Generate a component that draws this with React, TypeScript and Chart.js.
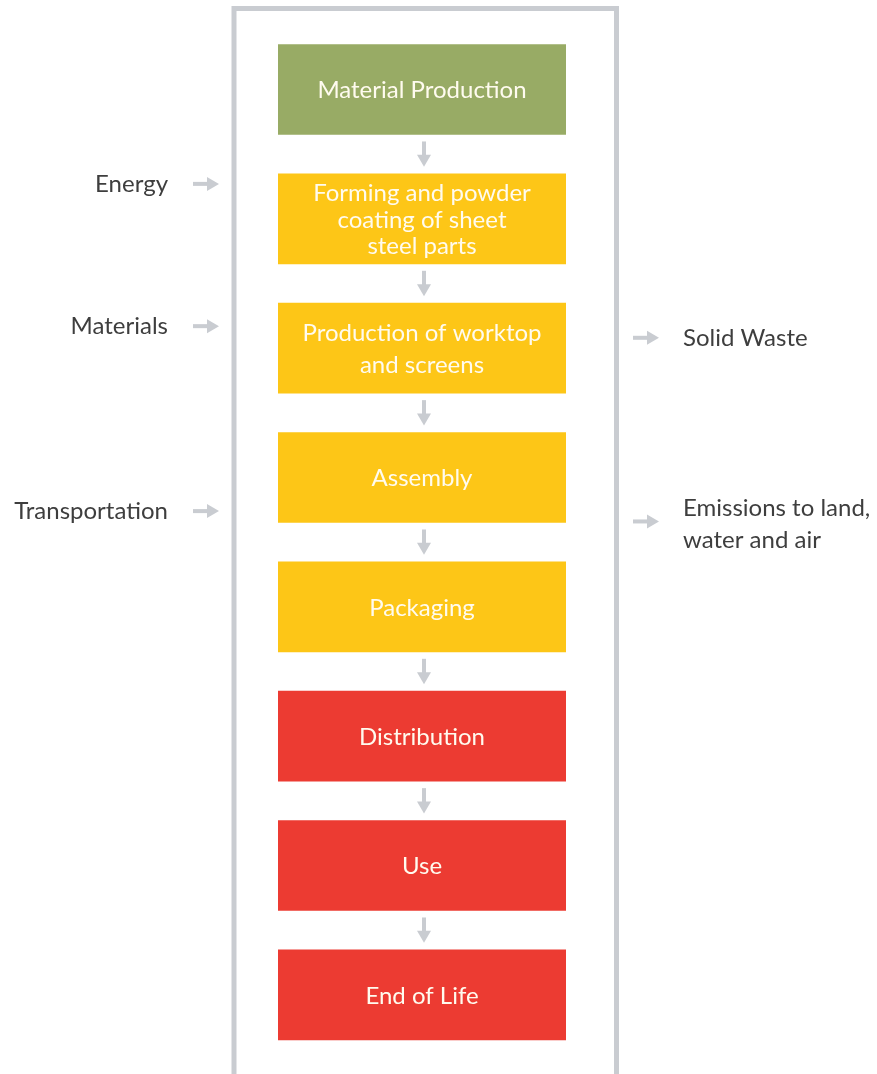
import React, { useEffect, useRef } from "react";
import { Chart, registerables } from "chart.js";

Chart.register(...registerables);

// ---- Data ----
const STAGES: string[][] = [
  ["Material Production"],
  ["Forming and powder", "coating of sheet", "steel parts"],
  ["Production of worktop", "and screens"],
  ["Assembly"],
  ["Packaging"],
  ["Distribution"],
  ["Use"],
  ["End of Life"],
];
const STAGE_PHASE: string[] = [
  "material",
  "manufacturing",
  "manufacturing",
  "manufacturing",
  "manufacturing",
  "use",
  "use",
  "use",
];
const STAGE_SPAN: [number, number] = [0, 1];

const INPUTS: string[][] = [["Energy"], ["Materials"], ["Transportation"]];
const INPUT_POS: number[] = [0.73, 1.83, 3.26];

const OUTPUTS: string[][] = [["Solid Waste"], ["Emissions to land,", "water and air"]];
const OUTPUT_POS: number[] = [1.92, 3.34];

// ---- Styles ----
const PHASE_COLORS: Record<string, string> = {
  material: "#98ab65",
  manufacturing: "#fdc617",
  use: "#ec3b32",
};
const GREY = "#c9ccd1";
const TEXT = "#3e3e3e";
const FONT = "24px Lato, 'Open Sans', sans-serif";
const BOX_LINE_H: number[] = [27, 26.5, 32, 27, 27, 27, 27, 27];

function drawRightArrow(ctx: CanvasRenderingContext2D, x0: number, x1: number, y: number) {
  ctx.fillStyle = GREY;
  const head = 12;
  ctx.fillRect(x0, y - 2, x1 - x0 - head + 1, 4);
  ctx.beginPath();
  ctx.moveTo(x1 - head, y - 7);
  ctx.lineTo(x1, y);
  ctx.lineTo(x1 - head, y + 7);
  ctx.closePath();
  ctx.fill();
}

function drawDownArrow(ctx: CanvasRenderingContext2D, x: number, y0: number, y1: number) {
  ctx.fillStyle = GREY;
  const head = 12;
  ctx.fillRect(x - 2, y0, 4, y1 - y0 - head + 1);
  ctx.beginPath();
  ctx.moveTo(x - 7, y1 - head);
  ctx.lineTo(x, y1);
  ctx.lineTo(x + 7, y1 - head);
  ctx.closePath();
  ctx.fill();
}

const flowPlugin = {
  id: "flow",
  beforeDatasetsDraw(chart: any) {
    const { ctx, chartArea } = chart;
    ctx.save();
    ctx.strokeStyle = GREY;
    ctx.lineWidth = 5;
    const left = chartArea.left - 44;
    const right = chartArea.right + 50.5;
    ctx.beginPath();
    ctx.moveTo(left, chart.height + 20);
    ctx.lineTo(left, 8.5);
    ctx.lineTo(right, 8.5);
    ctx.lineTo(right, chart.height + 20);
    ctx.stroke();
    ctx.restore();
  },
  afterDatasetsDraw(chart: any) {
    const { ctx, chartArea } = chart;
    const yScale = chart.scales.y;
    const meta = chart.getDatasetMeta(0);
    ctx.save();
    ctx.font = FONT;
    ctx.textBaseline = "middle";

    // box labels and connecting arrows
    meta.data.forEach((bar: any, i: number) => {
      const p = bar.getProps(["x", "y", "base", "height"], true);
      const cx = (p.x + p.base) / 2;
      const lines = STAGES[i];
      const lh = BOX_LINE_H[i];
      ctx.fillStyle = "#fffbef";
      ctx.textAlign = "center";
      lines.forEach((t, k) => {
        ctx.fillText(t, cx, p.y + (k - (lines.length - 1) / 2) * lh + 1);
      });
      if (i < meta.data.length - 1) {
        const n = meta.data[i + 1].getProps(["y", "height"], true);
        const bottom = p.y + p.height / 2;
        const top = n.y - n.height / 2;
        drawDownArrow(ctx, cx + 2, bottom + 7, top - 7);
      }
    });

    // inputs (left)
    INPUTS.forEach((lines, i) => {
      const y = yScale.getPixelForValue(INPUT_POS[i]);
      drawRightArrow(ctx, chartArea.left - 85, chartArea.left - 59, y);
      ctx.fillStyle = TEXT;
      ctx.textAlign = "right";
      lines.forEach((t, k) => {
        ctx.fillText(t, chartArea.left - 110, y + (k - (lines.length - 1) / 2) * 32);
      });
    });

    // outputs (right)
    OUTPUTS.forEach((lines, i) => {
      const y = yScale.getPixelForValue(OUTPUT_POS[i]);
      drawRightArrow(ctx, chartArea.right + 67, chartArea.right + 93, y);
      ctx.fillStyle = TEXT;
      ctx.textAlign = "left";
      const dy = lines.length > 1 ? 3 : 0;
      lines.forEach((t, k) => {
        ctx.fillText(t, chartArea.right + 117, y + dy + (k - (lines.length - 1) / 2) * 32);
      });
    });
    ctx.restore();
  },
};

export default function App() {
  const ref = useRef<HTMLCanvasElement | null>(null);
  useEffect(() => {
    if (!ref.current) return;
    const chart = new Chart(ref.current, {
      type: "bar",
      data: {
        labels: STAGES.map((s) => s.join(" ")),
        datasets: [
          {
            data: STAGES.map(() => STAGE_SPAN as any),
            backgroundColor: STAGE_PHASE.map((p) => PHASE_COLORS[p]),
            borderWidth: 0,
            barThickness: 90,
          },
        ],
      },
      options: {
        indexAxis: "y",
        responsive: false,
        animation: false,
        layout: { padding: { left: 278, right: 311, top: 24.8, bottom: 14.5 } },
        scales: {
          x: { type: "linear", min: 0, max: 1, display: false },
          y: { type: "category", display: false, offset: true },
        },
        plugins: { legend: { display: false }, tooltip: { enabled: false } },
      },
      plugins: [flowPlugin],
    } as any);
    return () => chart.destroy();
  }, []);
  return (
    <canvas
      ref={ref}
      width={877}
      height={1074}
      style={{ position: "absolute", left: 0, top: 0, width: 877, height: 1074 }}
    />
  );
}
